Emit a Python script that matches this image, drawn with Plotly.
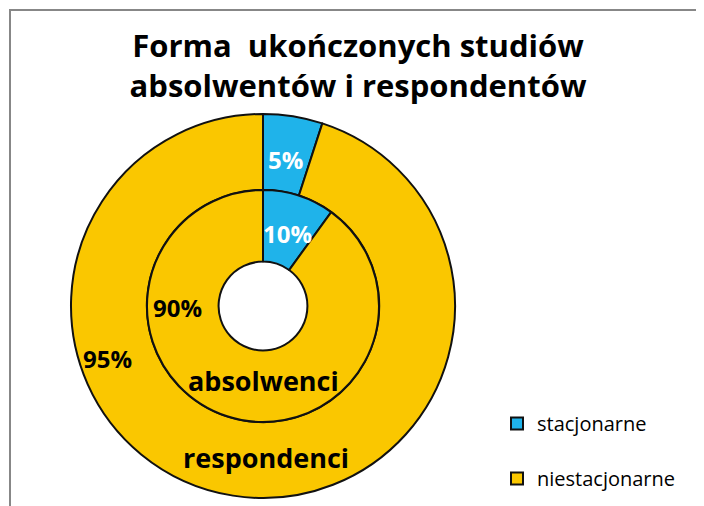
import plotly.graph_objects as go

# data
categories = ["stacjonarne", "niestacjonarne"]
series_names = ["absolwenci", "respondenci"]
absolwenci = [10, 90]
respondenci = [5, 95]

colors = ["#1FB3EA", "#FAC700"]
W, H = 704, 506
OFF = 8  # page body margin of the html file
font = "Open Sans"


def px(x):
    return (x - OFF) / W


def py(y):
    return 1 - (y - OFF) / H


def ring_domain(cx, cy, r):
    return dict(x=[px(cx - r), px(cx + r)], y=[py(cy + r), py(cy - r)])


# blank first line keeps the legend rows apart like in the original
legend_labels = [" <br>" + c for c in categories]

fig = go.Figure()

# outer ring - respondenci
fig.add_trace(
    go.Pie(
        labels=legend_labels,
        values=respondenci,
        name=series_names[1],
        hole=0.605,
        sort=False,
        direction="clockwise",
        rotation=0,
        textinfo="none",
        hovertemplate="%{customdata}: %{value}%<extra>respondenci</extra>",
        customdata=categories,
        marker=dict(colors=colors, line=dict(color="#111111", width=2)),
        domain=ring_domain(263, 306, 192),
    )
)

# inner ring - absolwenci
fig.add_trace(
    go.Pie(
        labels=legend_labels,
        values=absolwenci,
        name=series_names[0],
        hole=0.383,
        sort=False,
        direction="clockwise",
        rotation=0,
        textinfo="none",
        hovertemplate="%{customdata}: %{value}%<extra>absolwenci</extra>",
        customdata=categories,
        marker=dict(colors=colors, line=dict(color="#111111", width=2)),
        domain=ring_domain(263, 306, 116),
        showlegend=False,
    )
)

# percentage labels, placed like in the original
label_pos = {
    ("respondenci", 0): (285, 159, "white"),
    ("absolwenci", 0): (287, 233, "white"),
    ("absolwenci", 1): (177, 307, "black"),
    ("respondenci", 1): (107, 358, "black"),
}
for (series, i), (lx, ly, col) in label_pos.items():
    vals = respondenci if series == "respondenci" else absolwenci
    fig.add_annotation(
        x=px(lx), y=py(ly), xref="paper", yref="paper",
        xanchor="center", yanchor="middle",
        text=f"<b>{vals[i]}%</b>", showarrow=False,
        font=dict(family=font, size=24, color=col),
    )

# series names at bottom of rings
for name, (lx, ly) in zip(series_names, [(263, 380), (266, 457)]):
    fig.add_annotation(
        x=px(lx), y=py(ly), xref="paper", yref="paper",
        xanchor="center", yanchor="middle",
        text=f"<b>{name}</b>", showarrow=False,
        font=dict(family=font, size=27, color="black"),
    )

# chart border
fig.add_shape(
    type="rect", xref="paper", yref="paper",
    x0=px(10), y0=-0.1, x1=1.1, y1=py(10),
    line=dict(color="#878787", width=2),
)

fig.update_layout(
    width=W,
    height=H,
    margin=dict(l=0, r=0, t=0, b=0),
    paper_bgcolor="white",
    title=dict(
        text="<b>Forma  ukończonych studiów<br>absolwentów i respondentów</b>",
        x=px(358), xanchor="center",
        y=py(57), yanchor="top",
        font=dict(family=font, size=31, color="black"),
    ),
    legend=dict(
        x=px(497), xanchor="left",
        y=py(498), yanchor="bottom",
        valign="bottom",
        font=dict(family=font, size=20, color="black"),
        bgcolor="rgba(0,0,0,0)",
    ),
)

fig.write_html("out.html")
